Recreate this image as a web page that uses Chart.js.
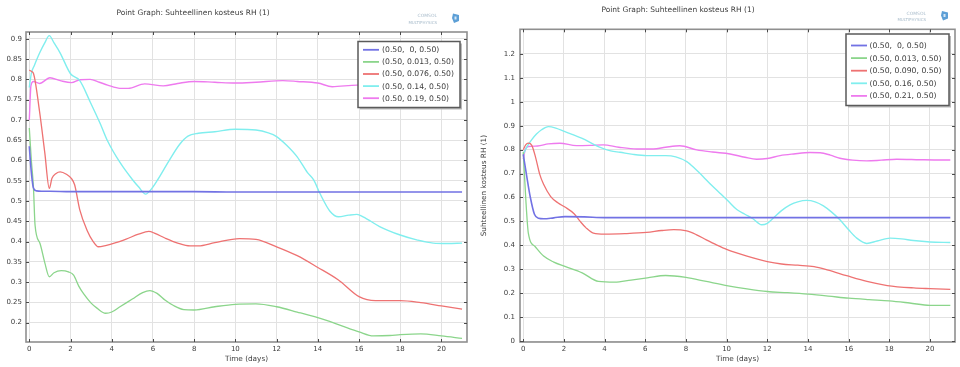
<!DOCTYPE html>
<html>
<head>
<meta charset="utf-8">
<script src="https://cdn.jsdelivr.net/npm/chart.js@4"></script>
<style>
  html, body { margin: 0; padding: 0; background: #fff; width: 960px; height: 367px; overflow: hidden; }
  canvas { position: absolute; top: 0; }
  #rhLeft { left: 0; }
  #rhRight { left: 480px; }
</style>
</head>
<body>
<canvas id="rhLeft" width="480" height="367"></canvas>
<canvas id="rhRight" width="480" height="367"></canvas>
<script>
// ---- axis ticks ----
const dayTicks = [0, 2, 4, 6, 8, 10, 12, 14, 16, 18, 20];
const leftRhTicks = [0.2, 0.25, 0.3, 0.35, 0.4, 0.45, 0.5, 0.55, 0.6, 0.65, 0.7, 0.75, 0.8, 0.85, 0.9];
const rightRhTicks = [0, 0.1, 0.2, 0.3, 0.4, 0.5, 0.6, 0.7, 0.8, 0.9, 1, 1.1, 1.2];

// ---- probe point labels ----
const leftProbes = ['(0.50,  0, 0.50)', '(0.50, 0.013, 0.50)', '(0.50, 0.076, 0.50)', '(0.50, 0.14, 0.50)', '(0.50, 0.19, 0.50)'];
const rightProbes = ['(0.50,  0, 0.50)', '(0.50, 0.013, 0.50)', '(0.50, 0.090, 0.50)', '(0.50, 0.16, 0.50)', '(0.50, 0.21, 0.50)'];

// ---- left graph: relative humidity (1) vs time (days) ----
const leftBlueT  = [0, 0.05, 0.12, 0.2, 0.35, 0.6, 1, 2, 4, 6, 8, 10, 12, 14, 16, 18, 20, 21];
const leftBlueRH = [0.635, 0.6, 0.56, 0.532, 0.525, 0.524, 0.524, 0.523, 0.523, 0.523, 0.523, 0.522, 0.522, 0.522, 0.522, 0.522, 0.522, 0.522];

const leftGreenT  = [0, 0.1, 0.2, 0.28, 0.52, 0.76, 0.97, 1.2, 1.55, 1.9, 2.15, 2.4, 2.65, 3.0, 3.3, 3.7, 4.0, 4.4, 5.0, 5.5, 5.85, 6.2, 6.6, 7.0, 7.5, 8.0, 9.0, 10.0, 11.0, 12.0, 13.0, 14.0, 15.0, 16.0, 16.7, 17.5, 18.0, 19.0, 20.0, 21.0];
const leftGreenRH = [0.68, 0.6, 0.535, 0.44, 0.395, 0.346, 0.313, 0.323, 0.328, 0.325, 0.317, 0.29, 0.27, 0.248, 0.235, 0.223, 0.226, 0.239, 0.258, 0.274, 0.279, 0.272, 0.255, 0.242, 0.232, 0.231, 0.239, 0.245, 0.246, 0.239, 0.226, 0.212, 0.195, 0.177, 0.167, 0.168, 0.17, 0.172, 0.167, 0.161];

const leftRedT  = [0, 0.1, 0.2, 0.5, 0.75, 0.97, 1.1, 1.3, 1.5, 1.8, 2.05, 2.2, 2.45, 2.8, 3.1, 3.35, 3.7, 4.2, 4.7, 5.3, 5.8, 6.1, 6.6, 7.2, 7.8, 8.2, 9.0, 10.2, 11.0, 12.0, 13.0, 14.0, 15.0, 16.0, 16.8, 18.0, 19.0, 20.0, 21.0];
const leftRedRH = [0.823, 0.82, 0.815, 0.72, 0.62, 0.531, 0.556, 0.568, 0.572, 0.566, 0.555, 0.54, 0.478, 0.428, 0.4, 0.387, 0.39, 0.397, 0.406, 0.418, 0.425, 0.42, 0.408, 0.396, 0.389, 0.389, 0.397, 0.407, 0.405, 0.387, 0.365, 0.336, 0.305, 0.264, 0.254, 0.254, 0.249, 0.241, 0.233];

const leftCyanT  = [0, 0.1, 0.25, 0.5, 0.75, 0.97, 1.2, 1.5, 2.0, 2.45, 2.95, 3.45, 3.8, 4.4, 5.0, 5.3, 5.65, 5.9, 6.2, 6.8, 7.3, 7.7, 8.2, 9.0, 10.0, 11.0, 11.6, 12.0, 12.5, 13.0, 13.5, 13.8, 14.1, 14.6, 15.0, 15.5, 15.9, 16.2, 17.0, 18.0, 18.8, 19.6, 20.3, 21.0];
const leftCyanRH = [0.78, 0.815, 0.835, 0.865, 0.89, 0.908, 0.89, 0.865, 0.814, 0.797, 0.745, 0.69, 0.648, 0.595, 0.553, 0.535, 0.517, 0.528, 0.55, 0.601, 0.64, 0.66, 0.667, 0.671, 0.677, 0.675, 0.668, 0.659, 0.637, 0.609, 0.57, 0.552, 0.519, 0.474, 0.461, 0.465, 0.467, 0.461, 0.437, 0.416, 0.404, 0.396, 0.395, 0.396];

const leftMagentaT  = [0, 0.08, 0.2, 0.5, 1.0, 1.5, 2.05, 2.45, 2.95, 3.4, 3.8, 4.4, 4.8, 5.6, 6.5, 7.2, 8.0, 9.0, 10.0, 11.0, 12.3, 13.0, 14.0, 14.7, 15.9, 17.0, 18.0, 19.0, 20.0, 21.0];
const leftMagentaRH = [0.70, 0.785, 0.795, 0.79, 0.804, 0.797, 0.792, 0.799, 0.8, 0.793, 0.786, 0.778, 0.778, 0.789, 0.784, 0.79, 0.795, 0.793, 0.791, 0.793, 0.797, 0.795, 0.791, 0.782, 0.786, 0.785, 0.785, 0.784, 0.784, 0.784];

// ---- right graph: relative humidity (1) vs time (days) ----
const rightBlueT  = [0, 0.15, 0.35, 0.55, 0.75, 1.0, 1.5, 2.05, 3.0, 4.0, 6, 8, 10, 12, 14, 16, 18, 20, 21];
const rightBlueRH = [0.78, 0.7, 0.6, 0.53, 0.513, 0.511, 0.515, 0.52, 0.519, 0.516, 0.516, 0.516, 0.516, 0.516, 0.516, 0.516, 0.516, 0.516, 0.516];

const rightGreenT  = [0, 0.12, 0.25, 0.58, 1.0, 1.5, 2.05, 2.9, 3.7, 4.5, 5.3, 6.1, 7.0, 8.0, 9.0, 10.0, 11.0, 12.0, 13.0, 14.0, 15.0, 16.0, 17.0, 18.0, 19.0, 20.0, 21.0];
const rightGreenRH = [0.79, 0.6, 0.451, 0.395, 0.355, 0.33, 0.312, 0.285, 0.249, 0.246, 0.255, 0.264, 0.274, 0.266, 0.249, 0.232, 0.218, 0.207, 0.202, 0.196, 0.188, 0.179, 0.173, 0.168, 0.159, 0.149, 0.149];

const rightRedT  = [0, 0.12, 0.25, 0.42, 0.6, 0.8, 1.0, 1.35, 1.7, 2.05, 2.5, 2.8, 3.1, 3.45, 4.0, 5.0, 6.07, 6.8, 7.4, 8.04, 8.5, 9.0, 9.5, 10.0, 11.0, 12.0, 12.7, 13.5, 14.3, 15.0, 15.9, 16.9, 17.9, 19.2, 20.0, 21.0];
const rightRedRH = [0.80, 0.82, 0.827, 0.818, 0.77, 0.70, 0.655, 0.604, 0.578, 0.56, 0.532, 0.5, 0.472, 0.451, 0.447, 0.449, 0.454, 0.462, 0.466, 0.46, 0.445, 0.423, 0.402, 0.383, 0.355, 0.332, 0.322, 0.317, 0.311, 0.296, 0.273, 0.249, 0.232, 0.222, 0.219, 0.216];

const rightCyanT  = [0, 0.2, 0.41, 0.65, 0.9, 1.23, 1.6, 2.05, 2.87, 3.69, 4.3, 4.76, 5.4, 6.07, 7.0, 7.5, 8.04, 8.45, 8.85, 9.25, 9.67, 10.1, 10.5, 10.9, 11.31, 11.72, 12.0, 12.3, 12.7, 13.12, 13.5, 13.94, 14.35, 14.76, 15.15, 15.57, 16.0, 16.4, 16.89, 17.4, 18.04, 18.6, 19.18, 20.0, 21.0];
const rightCyanRH = [0.78, 0.815, 0.841, 0.865, 0.883, 0.896, 0.89, 0.875, 0.848, 0.813, 0.795, 0.789, 0.78, 0.775, 0.775, 0.77, 0.75, 0.72, 0.687, 0.652, 0.618, 0.583, 0.55, 0.53, 0.51, 0.486, 0.492, 0.514, 0.545, 0.569, 0.582, 0.588, 0.582, 0.565, 0.54, 0.507, 0.465, 0.43, 0.408, 0.418, 0.43, 0.427, 0.42, 0.414, 0.412];

const rightMagentaT  = [0, 0.1, 0.25, 0.7, 1.23, 1.8, 2.62, 3.3, 3.93, 4.7, 5.58, 6.4, 7.0, 7.7, 8.53, 9.3, 10.17, 10.9, 11.48, 12.0, 12.63, 13.3, 14.1, 14.6, 15.1, 15.57, 16.2, 16.89, 17.6, 18.36, 19.5, 20.2, 21.0];
const rightMagentaRH = [0.76, 0.80, 0.813, 0.815, 0.824, 0.827, 0.817, 0.818, 0.82, 0.81, 0.803, 0.803, 0.81, 0.816, 0.799, 0.79, 0.782, 0.768, 0.76, 0.763, 0.775, 0.782, 0.788, 0.787, 0.777, 0.764, 0.756, 0.753, 0.756, 0.76, 0.758, 0.757, 0.757];

// ---- styling ----
const FONT = '"DejaVu Sans", "Liberation Sans", sans-serif';
const TEXT = '#3c3c3c';
const seriesColors = ['#7272e4', '#8bd58b', '#ee7272', '#80eeee', '#ee7aee'];
const seriesWidths = [1.6, 1.3, 1.3, 1.4, 1.4];
const titleText = 'Point Graph: Suhteellinen kosteus RH (1)';

function points(ts, vs) {
  return ts.map((t, i) => ({ x: t, y: vs[i] }));
}

function makeDatasets(labels, series) {
  return series.map(([ts, vs], i) => ({
    label: labels[i],
    data: points(ts, vs),
    borderColor: seriesColors[i],
    backgroundColor: seriesColors[i],
    borderWidth: seriesWidths[i],
    pointRadius: 0,
    cubicInterpolationMode: 'monotone',
    fill: false
  }));
}

// frame, inward tick marks, legend box, graph title and product mark
const comsolDecor = {
  id: 'comsolDecor',
  afterDraw(chart, args, o) {
    const { ctx, chartArea: a, scales } = chart;
    ctx.save();

    // plot frame
    ctx.strokeStyle = '#8f8f8f';
    ctx.lineWidth = 1.6;
    ctx.strokeRect(a.left, a.top, a.right - a.left, a.bottom - a.top);

    // inward ticks on all four sides
    ctx.strokeStyle = '#4a4a4a';
    ctx.lineWidth = 1;
    ctx.beginPath();
    scales.x.ticks.forEach(t => {
      const px = Math.round(scales.x.getPixelForValue(t.value)) + 0.5;
      ctx.moveTo(px, a.top); ctx.lineTo(px, a.top + 3);
      ctx.moveTo(px, a.bottom); ctx.lineTo(px, a.bottom - 3);
    });
    scales.y.ticks.forEach(t => {
      const py = Math.round(scales.y.getPixelForValue(t.value)) + 0.5;
      ctx.moveTo(a.left, py); ctx.lineTo(a.left + 3, py);
      ctx.moveTo(a.right, py); ctx.lineTo(a.right - 3, py);
    });
    ctx.stroke();

    // legend box
    const L = o.legend;
    ctx.fillStyle = '#b9b9b9';
    ctx.fillRect(L.x + 2, L.y + 2, L.w, L.h);
    ctx.fillStyle = '#ffffff';
    ctx.fillRect(L.x, L.y, L.w, L.h);
    ctx.strokeStyle = '#5a5a5a';
    ctx.lineWidth = 1.5;
    ctx.strokeRect(L.x, L.y, L.w, L.h);
    ctx.font = '7.7px ' + FONT;
    ctx.textBaseline = 'middle';
    ctx.textAlign = 'left';
    chart.data.datasets.forEach((ds, i) => {
      const y = L.row0 + i * L.step;
      ctx.strokeStyle = ds.borderColor;
      ctx.lineWidth = 1.8;
      ctx.beginPath();
      ctx.moveTo(L.x + L.lineFrom, y);
      ctx.lineTo(L.x + L.lineTo, y);
      ctx.stroke();
      ctx.fillStyle = TEXT;
      ctx.fillText(ds.label, L.x + L.textAt, y + 0.5);
    });

    // graph title
    ctx.font = '7.5px ' + FONT;
    ctx.fillStyle = TEXT;
    ctx.textAlign = 'center';
    ctx.fillText(titleText, o.title.x, o.title.y);

    // product mark
    const M = o.mark;
    ctx.textAlign = 'right';
    ctx.fillStyle = '#a9bccb';
    ctx.font = '4.5px ' + FONT;
    ctx.fillText('COMSOL', M.x, M.y);
    ctx.font = '4px ' + FONT;
    ctx.fillText('MULTIPHYSICS', M.x, M.y + 6.5);
    ctx.fillStyle = '#5d9fd6';
    ctx.beginPath();
    ctx.moveTo(M.x + 16, M.y - 2.5);
    ctx.lineTo(M.x + 22, M.y - 1);
    ctx.lineTo(M.x + 22, M.y + 5);
    ctx.lineTo(M.x + 17, M.y + 7);
    ctx.lineTo(M.x + 15, M.y + 2);
    ctx.closePath();
    ctx.fill();
    ctx.fillStyle = '#d6e8f6';
    ctx.fillRect(M.x + 17.5, M.y + 0.5, 2, 3);

    ctx.restore();
  }
};

function fixedTicks(list) {
  return scale => { scale.ticks = list.map(v => ({ value: v })); };
}

function makeChart(id, cfg) {
  return new Chart(document.getElementById(id), {
    type: 'line',
    data: { datasets: cfg.datasets },
    options: {
      responsive: false,
      animation: false,
      events: [],
      layout: { padding: cfg.padding },
      plugins: {
        legend: { display: false },
        title: { display: false },
        tooltip: { enabled: false },
        comsolDecor: cfg.decor
      },
      scales: {
        x: {
          type: 'linear',
          min: cfg.xMin,
          max: cfg.xMax,
          afterBuildTicks: fixedTicks(dayTicks),
          afterFit: s => { s.height = cfg.xHeight; },
          border: { display: false },
          grid: { color: '#e2e2e2', lineWidth: 1, drawTicks: false },
          ticks: { padding: 2.5, color: TEXT, font: { family: FONT, size: 7 }, maxRotation: 0, callback: v => String(v) },
          title: { display: true, text: 'Time (days)', color: TEXT, font: { family: FONT, size: 7.3 }, padding: { top: 0, bottom: 4 } }
        },
        y: {
          type: 'linear',
          min: cfg.yMin,
          max: cfg.yMax,
          afterBuildTicks: fixedTicks(cfg.yTicks),
          afterFit: s => { s.width = cfg.yWidth; },
          border: { display: false },
          grid: { color: '#e2e2e2', lineWidth: 1, drawTicks: false },
          ticks: { padding: cfg.yPad, color: TEXT, font: { family: FONT, size: 7 }, callback: v => String(+v.toFixed(2)) },
          title: { display: cfg.yTitle, text: 'Suhteellinen kosteus RH (1)', color: TEXT, font: { family: FONT, size: 7.3 }, padding: { top: 0, bottom: 0 } }
        }
      }
    },
    plugins: [comsolDecor]
  });
}

makeChart('rhLeft', {
  datasets: makeDatasets(leftProbes, [
    [leftBlueT, leftBlueRH], [leftGreenT, leftGreenRH], [leftRedT, leftRedRH],
    [leftCyanT, leftCyanRH], [leftMagentaT, leftMagentaRH]
  ]),
  padding: { left: 0, right: 13, top: 32, bottom: 0 },
  xMin: -0.16, xMax: 21.24, xHeight: 25,
  yMin: 0.152, yMax: 0.917, yTicks: leftRhTicks, yWidth: 26, yPad: 4, yTitle: false,
  decor: {
    legend: { x: 358, y: 41.5, w: 102, h: 66, row0: 49.8, step: 12.1, lineFrom: 5, lineTo: 21, textAt: 24 },
    title: { x: 193, y: 13.5 },
    mark: { x: 437, y: 16 }
  }
});

makeChart('rhRight', {
  datasets: makeDatasets(rightProbes, [
    [rightBlueT, rightBlueRH], [rightGreenT, rightGreenRH], [rightRedT, rightRedRH],
    [rightCyanT, rightCyanRH], [rightMagentaT, rightMagentaRH]
  ]),
  padding: { left: 0, right: 5, top: 29.3, bottom: 0 },
  xMin: -0.16, xMax: 21.23, xHeight: 25,
  yMin: -0.004, yMax: 1.303, yTicks: rightRhTicks, yWidth: 40, yPad: 5, yTitle: true,
  decor: {
    legend: { x: 366, y: 34, w: 103, h: 71.5, row0: 45.5, step: 12.6, lineFrom: 5, lineTo: 21, textAt: 23.5 },
    title: { x: 198, y: 10.5 },
    mark: { x: 446, y: 13.5 }
  }
});
</script>
</body>
</html>
